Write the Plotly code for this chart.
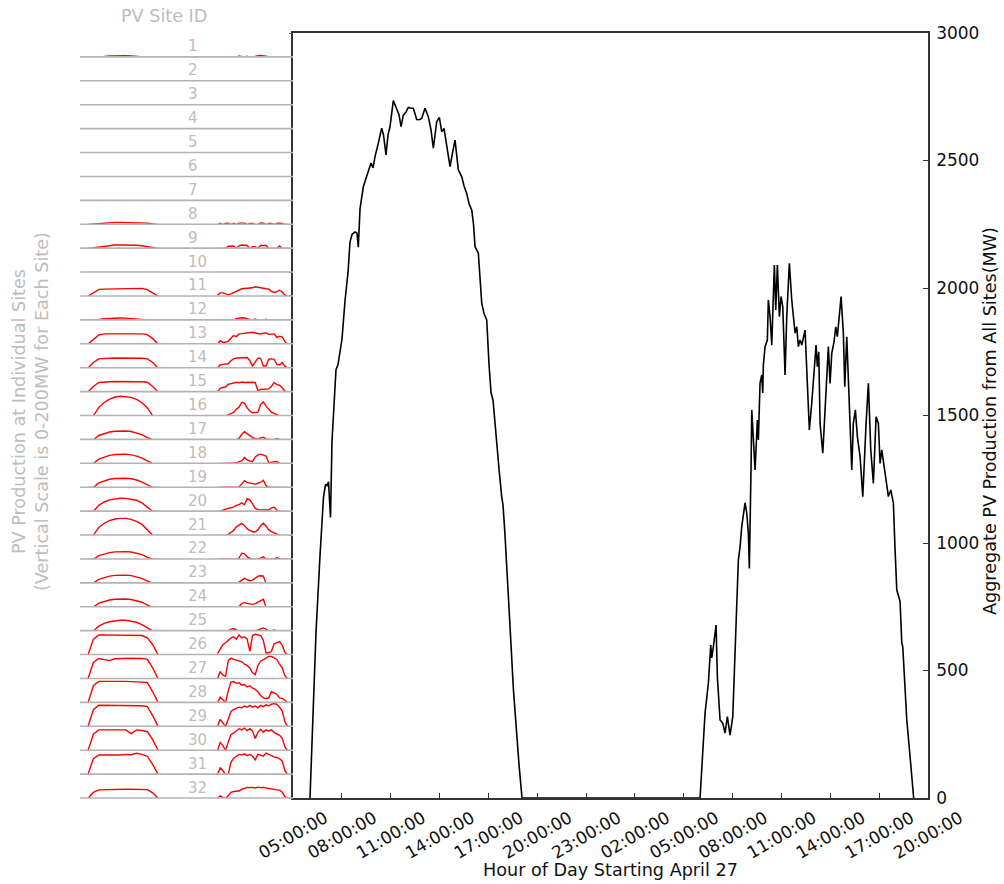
import plotly.graph_objects as go
import pandas as pd

# ---------------- Aggregate PV production (hours since 00:00 Apr 27, MW) -------------
agg_hours = [
    6.044, 6.229, 6.413, 6.658, 6.873, 6.996, 7.088, 7.181, 7.242, 7.303, 7.396, 7.518,
    7.641, 7.764, 7.887, 8.010, 8.194, 8.378, 8.501, 8.624, 8.808, 8.931, 9.011, 9.116,
    9.318, 9.484, 9.625, 9.791, 9.914, 10.037, 10.240, 10.448, 10.559, 10.713, 10.835,
    10.958, 11.161, 11.265, 11.407, 11.511, 11.634, 11.775, 11.941, 12.082, 12.248,
    12.389, 12.598, 12.740, 12.905, 13.108, 13.311, 13.477, 13.618, 13.827, 13.987,
    14.134, 14.275, 14.441, 14.644, 14.797, 14.951, 15.154, 15.363, 15.504, 15.670,
    15.811, 15.977, 16.087, 16.179, 16.382, 16.486, 16.591, 16.732, 16.898, 17.039,
    17.162, 17.285, 17.408, 17.531, 17.654, 17.819, 17.899, 18.022, 18.145, 18.268,
    18.391, 18.532, 18.698, 18.882, 19.066,
    30.000, 30.307, 30.510, 30.657, 30.718, 30.817, 30.983, 31.063, 31.228, 31.394,
    31.536, 31.677, 31.843, 32.009, 32.150, 32.254, 32.353, 32.457, 32.561, 32.764,
    32.869, 32.967, 33.028, 33.133, 33.176, 33.378, 33.520, 33.581, 33.685, 33.790,
    33.851, 33.888, 33.993, 34.134, 34.195, 34.300, 34.404, 34.503, 34.564, 34.650,
    34.748, 34.871, 34.975, 35.080, 35.221, 35.325, 35.485, 35.632, 35.835, 35.939,
    36.038, 36.142, 36.246, 36.449, 36.554, 36.652, 36.713, 36.861, 37.021, 37.125,
    37.205, 37.291, 37.371, 37.537, 37.635, 37.782, 37.881, 37.985, 38.089, 38.231,
    38.335, 38.433, 38.556, 38.661, 38.802, 38.888, 39.011, 39.170, 39.318, 39.416,
    39.539, 39.662, 39.828, 39.994, 40.092, 40.197, 40.338, 40.485, 40.645, 40.811,
    40.952, 41.057, 41.161, 41.302, 41.425, 41.567, 41.714, 41.874, 41.978, 42.083,
    42.285, 42.390, 42.451, 42.697, 42.917, 43.120,
]
agg_mw = [
    0, 300, 650, 950, 1180, 1230, 1225, 1240, 1150, 1100, 1400, 1550,
    1680, 1700, 1760, 1800, 1950, 2060, 2180, 2210, 2220, 2215, 2160, 2310,
    2397, 2430, 2463, 2490, 2471, 2515, 2568, 2627, 2600, 2522, 2600,
    2633, 2735, 2720, 2698, 2680, 2633, 2678, 2690, 2708, 2705,
    2705, 2661, 2660, 2665, 2705, 2672, 2620, 2548, 2652, 2669,
    2613, 2626, 2554, 2476, 2530, 2580, 2463, 2437, 2400, 2371,
    2330, 2306, 2250, 2162, 2137, 2050, 1941, 1900, 1875, 1700,
    1590, 1560, 1480, 1400, 1290, 1180, 1150, 1030, 900, 760,
    600, 430, 280, 130, 0,
    0, 333, 450, 600, 549, 593, 678, 476, 306, 294,
    255, 319, 247, 319, 580, 776, 933, 985, 1064, 1157,
    1118, 1039, 900, 1300, 1522, 1286, 1482, 1404, 1627, 1659,
    1588, 1698, 1770, 1796, 1953, 1888, 1776, 1973, 2090, 1914,
    2090, 1888, 1966, 1927, 1659, 1888, 2097, 1953, 1823, 1848,
    1770, 1796, 1776, 1835, 1691, 1561, 1443, 1549, 1705, 1776,
    1691, 1750, 1469, 1352, 1469, 1652, 1770, 1626, 1744, 1790,
    1848, 1809, 1900, 1966, 1822, 1613, 1809, 1522, 1286, 1469,
    1522, 1417, 1339, 1182, 1339, 1469, 1626, 1365, 1234, 1495,
    1469, 1312, 1365, 1299, 1234, 1182, 1208, 1156, 973, 816,
    770, 608, 593, 306, 149, 0,
]

# ---------------- Individual sites (MW, vertical scale 0-200 per site) ---------------
site_ids = list(range(1, 33))
day1_hours = [6, 7, 8, 9, 10, 11, 12, 13, 14, 15, 16, 17, 18, 19]
day2_hours = [30, 30.5, 31, 31.5, 32, 32.5, 33, 33.5, 34, 34.5, 35, 35.5, 36, 36.5,
              37, 37.5, 38, 38.5, 39, 39.5, 40, 40.5, 41, 41.5, 42, 42.5, 43]

Z1 = [0] * 14
Z2 = [0] * 27

day1_s01 = [0, 0, 0, 6, 10, 12, 12, 12, 10, 6, 0, 0, 0, 0]
day1_s08 = [0, 4, 12, 15, 17, 18, 18, 18, 18, 17, 15, 12, 4, 0]
day1_s09 = [0, 6, 15, 22, 26, 28, 29, 29, 28, 26, 22, 15, 6, 0]
day1_s11 = [0, 28, 57, 59, 60, 60, 62, 62, 60, 63, 65, 55, 30, 0]
day1_s12 = [0, 0, 6, 12, 15, 17, 18, 17, 15, 12, 6, 0, 0, 0]
day1_s13 = [0, 40, 75, 84, 84, 86, 86, 88, 88, 88, 84, 78, 45, 0]
day1_s14 = [0, 45, 75, 80, 81, 82, 82, 83, 82, 81, 80, 75, 45, 0]
day1_s15 = [0, 45, 78, 84, 84, 86, 84, 86, 86, 84, 84, 80, 45, 0]
day1_s16 = [0, 0, 70, 110, 138, 155, 162, 160, 152, 135, 108, 65, 0, 0]
day1_s17 = [0, 0, 35, 52, 64, 70, 73, 72, 68, 58, 42, 18, 0, 0]
day1_s18 = [0, 0, 38, 56, 68, 75, 78, 78, 72, 62, 45, 20, 0, 0]
day1_s19 = [0, 0, 38, 56, 68, 75, 78, 77, 72, 62, 45, 20, 0, 0]
day1_s20 = [0, 0, 50, 78, 95, 104, 109, 108, 102, 92, 70, 35, 0, 0]
day1_s21 = [0, 0, 65, 100, 122, 135, 140, 140, 132, 115, 90, 45, 0, 0]
day1_s22 = [0, 0, 30, 45, 55, 61, 64, 63, 60, 52, 38, 15, 0, 0]
day1_s23 = [0, 0, 32, 48, 58, 64, 67, 66, 62, 54, 40, 16, 0, 0]
day1_s24 = [0, 0, 32, 48, 58, 64, 67, 66, 62, 54, 40, 16, 0, 0]
day1_s25 = [0, 0, 40, 62, 76, 85, 89, 88, 83, 72, 52, 22, 0, 0]
day1_s26 = [0, 130, 165, 165, 160, 165, 165, 165, 163, 165, 160, 140, 84, 0]
day1_s27 = [0, 135, 167, 160, 150, 165, 168, 168, 170, 168, 168, 160, 90, 0]
day1_s28 = [0, 140, 176, 175, 172, 176, 176, 176, 176, 175, 170, 165, 90, 0]
day1_s29 = [0, 140, 176, 176, 178, 176, 178, 176, 176, 176, 172, 165, 90, 0]
day1_s30 = [0, 135, 170, 170, 170, 170, 172, 170, 140, 170, 165, 155, 90, 0]
day1_s31 = [0, 130, 160, 158, 162, 160, 160, 165, 162, 175, 165, 150, 80, 0]
day1_s32 = [0, 50, 70, 72, 75, 75, 75, 75, 75, 75, 75, 72, 45, 0]

day2_s01 = [0, 0, 0, 0, 0, 0, 0, 0, 10, 6, 0, 8, 0, 0, 8, 12, 14, 12, 8, 0, 0, 0, 0, 0, 0, 0, 0]
day2_s08 = [0, 10, 0, 10, 12, 0, 10, 0, 12, 14, 12, 0, 10, 10, 0, 0, 14, 12, 0, 10, 10, 0, 10, 12, 10, 0, 0]
day2_s09 = [0, 0, 0, 0, 18, 22, 20, 0, 22, 28, 28, 25, 0, 15, 15, 0, 25, 28, 25, 0, 0, 0, 0, 20, 0, 0, 0]
day2_s11 = [8, 28, 28, 22, 12, 20, 31, 45, 56, 62, 64, 64, 66, 70, 78, 72, 68, 66, 62, 60, 40, 31, 38, 50, 35, 8, 0]
day2_s12 = [0, 0, 0, 0, 0, 0, 0, 12, 18, 20, 18, 12, 0, 0, 10, 0, 0, 0, 8, 0, 0, 0, 0, 0, 0, 0, 0]
day2_s13 = [0, 28, 14, 15, 25, 50, 70, 62, 84, 86, 88, 90, 90, 98, 92, 86, 84, 90, 92, 80, 82, 84, 56, 65, 60, 20, 0]
day2_s14 = [0, 25, 30, 30, 35, 60, 75, 82, 85, 86, 85, 86, 60, 17, 50, 81, 80, 17, 17, 73, 75, 72, 30, 25, 45, 15, 0]
day2_s15 = [0, 30, 36, 40, 62, 70, 75, 80, 75, 82, 78, 80, 76, 80, 78, 10, 20, 22, 22, 25, 45, 78, 60, 55, 35, 5, 0]
day2_s16 = [0, 0, 0, 0, 8, 20, 28, 55, 70, 112, 105, 65, 40, 25, 25, 30, 95, 115, 80, 55, 30, 20, 12, 0, 0, 0, 0]
day2_s17 = [0, 0, 0, 0, 0, 0, 0, 0, 10, 45, 67, 50, 30, 17, 10, 5, 15, 20, 5, 0, 0, 0, 10, 0, 0, 0, 0]
day2_s18 = [0, 0, 0, 0, 0, 0, 0, 5, 17, 22, 50, 30, 22, 17, 55, 72, 78, 70, 62, 8, 10, 17, 17, 0, 0, 0, 0]
day2_s19 = [0, 0, 0, 0, 0, 0, 0, 0, 5, 30, 56, 42, 36, 30, 28, 35, 42, 60, 15, 0, 0, 0, 0, 0, 0, 0, 0]
day2_s20 = [0, 0, 10, 20, 25, 30, 35, 50, 56, 70, 55, 105, 95, 62, 25, 15, 12, 12, 12, 12, 30, 35, 10, 0, 0, 0, 0]
day2_s21 = [0, 0, 0, 0, 8, 25, 40, 70, 85, 98, 80, 55, 40, 30, 30, 45, 80, 100, 78, 45, 30, 20, 12, 0, 0, 0, 0]
day2_s22 = [0, 0, 0, 0, 0, 0, 0, 0, 10, 50, 45, 20, 8, 0, 0, 0, 10, 20, 0, 0, 0, 0, 14, 0, 0, 0, 0]
day2_s23 = [0, 0, 0, 0, 0, 0, 0, 0, 8, 25, 40, 30, 20, 25, 40, 58, 61, 58, 0, 0, 0, 0, 0, 0, 0, 0, 0]
day2_s24 = [0, 0, 0, 0, 0, 0, 0, 0, 5, 30, 36, 30, 25, 22, 28, 40, 52, 64, 0, 0, 0, 0, 0, 0, 0, 0, 0]
day2_s25 = [0, 0, 0, 0, 0, 15, 20, 8, 0, 0, 0, 0, 0, 0, 0, 8, 18, 25, 15, 0, 0, 8, 0, 0, 0, 0, 0]
day2_s26 = [10, 50, 84, 100, 120, 140, 150, 130, 165, 140, 150, 130, 30, 160, 170, 165, 160, 120, 15, 15, 30, 90, 100, 110, 80, 20, 0]
day2_s27 = [0, 60, 30, 20, 150, 170, 160, 155, 150, 140, 120, 110, 90, 50, 35, 110, 145, 160, 170, 185, 185, 170, 160, 120, 90, 25, 0]
day2_s28 = [0, 45, 25, 0, 100, 170, 175, 160, 165, 145, 150, 130, 140, 120, 110, 90, 60, 40, 35, 40, 90, 80, 70, 40, 35, 20, 0]
day2_s29 = [0, 60, 30, 0, 60, 125, 140, 150, 160, 155, 170, 160, 175, 160, 170, 155, 175, 165, 180, 170, 185, 190, 185, 160, 130, 40, 0]
day2_s30 = [0, 65, 40, 0, 70, 130, 145, 160, 180, 170, 185, 165, 180, 160, 100, 150, 175, 150, 170, 160, 170, 150, 140, 125, 100, 30, 0]
day2_s31 = [0, 55, 30, 0, 0, 100, 134, 150, 165, 160, 170, 155, 165, 150, 120, 165, 160, 150, 176, 165, 150, 145, 140, 130, 110, 30, 0]
day2_s32 = [0, 20, 5, 0, 20, 50, 56, 58, 60, 75, 85, 90, 88, 90, 85, 92, 88, 90, 85, 80, 75, 72, 70, 68, 50, 15, 0]

site_day1 = [day1_s01, Z1, Z1, Z1, Z1, Z1, Z1, day1_s08, day1_s09, Z1, day1_s11, day1_s12,
             day1_s13, day1_s14, day1_s15, day1_s16, day1_s17, day1_s18, day1_s19, day1_s20,
             day1_s21, day1_s22, day1_s23, day1_s24, day1_s25, day1_s26, day1_s27, day1_s28,
             day1_s29, day1_s30, day1_s31, day1_s32]
site_day2 = [day2_s01, Z2, Z2, Z2, Z2, Z2, Z2, day2_s08, day2_s09, Z2, day2_s11, day2_s12,
             day2_s13, day2_s14, day2_s15, day2_s16, day2_s17, day2_s18, day2_s19, day2_s20,
             day2_s21, day2_s22, day2_s23, day2_s24, day2_s25, day2_s26, day2_s27, day2_s28,
             day2_s29, day2_s30, day2_s31, day2_s32]

# ---------------- Layout helpers ----------------------------------------------------
W, H = 1004, 884
FONT = "DejaVu Sans"
GRAY = "#bdbdbd"
DARK = "#111111"
BASE = pd.Timestamp("2014-04-27 00:00")


def fx(p):
    return p / W


def fy(p):
    return 1 - p / H


PL, PR, PT, PB = 293, 928, 33, 798
SPARK_L, LINE_L = 82.6, 80
N = len(site_ids)
ROW_H = (PB - PT) / N

fig = go.Figure()

# main aggregate line
fig.add_trace(go.Scatter(
    x=[BASE + pd.Timedelta(hours=h) for h in agg_hours], y=agg_mw,
    mode="lines", line=dict(color="black", width=1.6),
    xaxis="x", yaxis="y", showlegend=False, hoverinfo="skip"))

layout_axes = {}
shapes = []
annotations = []

for i, sid in enumerate(site_ids):
    yname = f"y{i + 2}"
    xs = list(day1_hours) + [None] + list(day2_hours)
    ys = list(site_day1[i]) + [None] + list(site_day2[i])
    fig.add_trace(go.Scatter(x=xs, y=ys, mode="lines",
                             line=dict(color="#ff0000", width=1.4),
                             xaxis="x2", yaxis=yname, showlegend=False,
                             hoverinfo="skip", connectgaps=False))
    top = PT + i * ROW_H
    bot = PT + (i + 1) * ROW_H
    # range starts slightly above 0 so a zero-valued line sits under the grey baseline
    layout_axes[f"yaxis{i + 2}"] = dict(domain=[fy(bot), fy(top)], anchor="x2",
                                       range=[2.5, 200], visible=False, fixedrange=True)
    shapes.append(dict(type="line", xref="paper", x0=fx(LINE_L), x1=fx(PL),
                       yref=f"{yname} domain", y0=0, y1=0, layer="above",
                       line=dict(color="#b3b3b3", width=1.6)))
    annotations.append(dict(text=str(sid), x=fx(186), xanchor="left",
                            y=fy(bot - 10.5), yanchor="middle", xref="paper", yref="paper",
                            showarrow=False, font=dict(family=FONT, size=15, color=GRAY)))

# row tick marks on the left spine of the main plot
fig.add_trace(go.Scatter(x=[], y=[], xaxis="x", yaxis="y34", showlegend=False, hoverinfo="skip"))
layout_axes["yaxis34"] = dict(overlaying="y", anchor="x", side="left", range=[0, N],
                             tickmode="linear", tick0=0, dtick=1, ticks="outside",
                             ticklen=3, tickwidth=1, tickcolor="#666666",
                             showticklabels=False, showline=False, showgrid=False,
                             zeroline=False, fixedrange=True)

annotations += [
    dict(text="PV Site ID", x=fx(163.5), y=fy(16), xref="paper", yref="paper",
         xanchor="center", yanchor="middle", showarrow=False,
         font=dict(family=FONT, size=17.6, color=GRAY)),
    dict(text="PV Production at Individual Sites<br>(Vertical Scale is 0-200MW for Each Site)",
         x=fx(30), y=fy(412), xref="paper", yref="paper", textangle=-90,
         xanchor="center", yanchor="middle", showarrow=False,
         font=dict(family=FONT, size=17.6, color=GRAY)),
    dict(text="Hour of Day Starting April 27", x=fx(610.5), y=fy(870),
         xref="paper", yref="paper", xanchor="center", yanchor="middle",
         showarrow=False, font=dict(family=FONT, size=17.6, color=DARK)),
    dict(text="Aggregate PV Production from All Sites(MW)", x=fx(990), y=fy(421),
         xref="paper", yref="paper", textangle=-90, xanchor="center", yanchor="middle",
         showarrow=False, font=dict(family=FONT, size=17.6, color=DARK)),
]

fig.update_layout(
    width=W, height=H, margin=dict(l=0, r=0, t=0, b=0),
    paper_bgcolor="white", plot_bgcolor="white",
    font=dict(family=FONT, color=DARK),
    xaxis=dict(domain=[fx(PL), fx(PR)], anchor="y", type="date",
               range=[BASE + pd.Timedelta(hours=5), BASE + pd.Timedelta(hours=44)],
               tick0=BASE + pd.Timedelta(hours=5), dtick=3 * 3600 * 1000,
               tickformat="%H:%M:%S", tickangle=-30, ticks="inside", ticklen=5,
               tickwidth=1, tickcolor="#333333", showline=True, linecolor="#333333",
               linewidth=1.5, mirror=True, showgrid=False, zeroline=False,
               tickfont=dict(family=FONT, size=17, color=DARK),
               ticklabelshift=32, ticklabelstandoff=2, automargin=False, fixedrange=True),
    yaxis=dict(domain=[fy(PB), fy(PT)], anchor="x", side="right", range=[0, 3000],
               dtick=500, ticks="inside", ticklen=5, tickwidth=1, tickcolor="#333333",
               showline=True, linecolor="#333333", linewidth=1.5, mirror=True,
               showgrid=False, zeroline=False,
               tickfont=dict(family=FONT, size=17, color=DARK),
               ticklabelstandoff=3, automargin=False, fixedrange=True),
    xaxis2=dict(domain=[fx(SPARK_L), fx(PL)], anchor="y33", range=[5, 44],
                visible=False, fixedrange=True),
    shapes=shapes,
    annotations=annotations,
    **layout_axes,
)

fig.write_html("out.html", config={"displayModeBar": False},
               post_script="document.body.style.margin='0';document.body.style.overflow='hidden';")
